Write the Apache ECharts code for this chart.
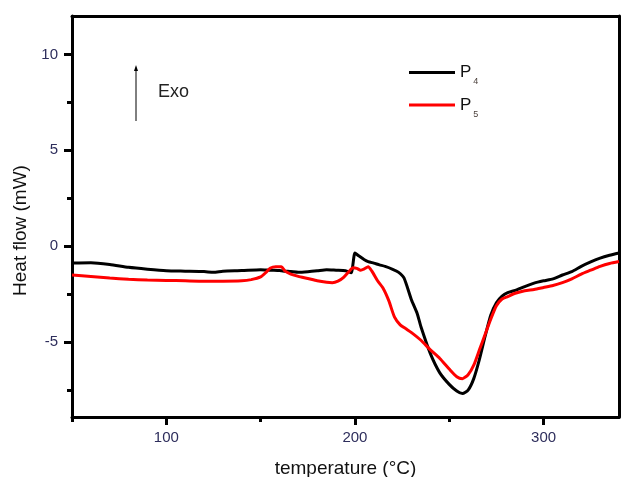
<!DOCTYPE html>
<html>
<head>
<meta charset="utf-8">
<script src="https://cdn.jsdelivr.net/npm/echarts@6/dist/echarts.min.js"></script>
<style>
  html, body { margin: 0; padding: 0; background: #fff; }
  #chart { width: 621px; height: 477px; }
</style>
</head>
<body>
<div id="chart"></div>
<script>
// DSC curves
const tempP4 = [50, 60, 70, 80, 90, 100, 110, 120, 125, 130, 140, 150, 155, 160, 163, 166, 170, 175, 180, 185, 190, 195, 198,
  200, 202, 205, 207, 210, 213, 216, 220, 223, 226, 230, 233, 235, 240, 245, 250, 254, 257, 260, 263, 266, 269, 272, 275,
  278, 281, 285, 290, 295, 300, 305, 310, 315, 320, 325, 330, 335, 340];
const heatP4 = [-0.88, -0.86, -0.95, -1.1, -1.2, -1.28, -1.3, -1.32, -1.36, -1.3, -1.27, -1.22, -1.25, -1.27, -1.3, -1.32,
  -1.36, -1.33, -1.28, -1.22, -1.25, -1.28, -1.38,
  -0.35, -0.5, -0.7, -0.8, -0.88, -0.97, -1.05, -1.2, -1.35, -1.65, -2.8, -3.5, -4.2, -5.6, -6.6, -7.2, -7.55, -7.68,
  -7.5, -6.9, -5.9, -4.7, -3.6, -2.95, -2.6, -2.42, -2.3, -2.1, -1.92, -1.8, -1.7, -1.5, -1.32, -1.05, -0.82, -0.62,
  -0.47, -0.35];

const tempP5 = [50, 60, 70, 80, 90, 100, 110, 120, 130, 140, 145, 150, 153, 155, 158, 161, 163, 166, 170, 175, 180, 185,
  188, 191, 194, 197, 199, 201, 203, 205, 207, 209, 212, 215, 218, 221, 224, 227, 230, 235, 240, 245, 250, 254, 257,
  260, 263, 266, 269, 272, 275, 278, 281, 285, 290, 295, 300, 305, 310, 315, 320, 325, 330, 335, 340];
const heatP5 = [-1.5, -1.58, -1.66, -1.72, -1.76, -1.78, -1.8, -1.82, -1.82, -1.8, -1.74, -1.6, -1.35, -1.15, -1.07,
  -1.07, -1.3, -1.45, -1.57, -1.68, -1.8, -1.88, -1.9, -1.82, -1.62, -1.3, -1.12, -1.15, -1.25, -1.18, -1.07, -1.3,
  -1.8, -2.2, -2.85, -3.7, -4.1, -4.3, -4.5, -4.9, -5.4, -5.85, -6.4, -6.8, -6.9, -6.7, -6.2, -5.4, -4.6, -3.8, -3.1,
  -2.75, -2.62, -2.45, -2.32, -2.25, -2.15, -2.05, -1.9, -1.7, -1.45, -1.25, -1.05, -0.9, -0.8];

const seriesNames = ['P4', 'P5'];
const xMajorTicks = [100, 200, 300];
const xMinorTicks = [50, 150, 250];
const yMajorTicks = [-5, 0, 5, 10];
const yMinorTicks = [-7.5, -2.5, 2.5, 7.5];

const FONT = 'Liberation Sans, Arial, sans-serif';
const LABEL_COLOR = '#2e2e5c';

const X_MIN = 50, X_MAX = 340;
const Y_MIN = -8.9, Y_MAX = 12;

function pairs(xs, ys) {
  return xs.map((x, i) => [x, ys[i]]);
}

const chart = echarts.init(document.getElementById('chart'));

const axisLine = { show: true, onZero: false, lineStyle: { color: '#000', width: 3 } };
const noLine = { show: false, onZero: false };
const tickStyle = { width: 3, color: '#000' };
const tickLabel = { fontFamily: FONT, fontSize: 15, color: LABEL_COLOR };

chart.setOption({
  animation: false,
  backgroundColor: '#fff',
  grid: { left: 72, right: 2, top: 16, bottom: 60, containLabel: false, outerBoundsMode: 'none' },
  legend: {
    orient: 'vertical',
    left: 404,
    top: 59,
    itemWidth: 46,
    itemHeight: 3,
    itemGap: 10,
    icon: 'rect',
    data: seriesNames,
    formatter: function (name) {
      return '{p|P}{s|' + name.slice(1) + '}';
    },
    textStyle: {
      rich: {
        p: { fontFamily: FONT, fontSize: 17, color: '#111' },
        s: { fontFamily: FONT, fontSize: 9, color: '#4a3f3a', padding: [19, 0, 0, 2] }
      }
    }
  },
  xAxis: [{
    type: 'value',
    min: X_MIN,
    max: X_MAX,
    name: 'temperature (°C)',
    nameLocation: 'middle',
    nameGap: 42,
    nameTextStyle: { fontFamily: FONT, fontSize: 19, color: '#111' },
    axisLine: axisLine,
    axisTick: { show: true, length: 8, lineStyle: tickStyle, customValues: xMajorTicks },
    axisLabel: Object.assign({ margin: 13, customValues: xMajorTicks }, tickLabel),
    splitLine: { show: false }
  }, {
    type: 'value',
    position: 'top',
    min: X_MIN,
    max: X_MAX,
    axisLine: axisLine,
    axisTick: { show: false },
    axisLabel: { show: false },
    splitLine: { show: false }
  }, {
    // minor ticks
    type: 'value',
    position: 'bottom',
    min: X_MIN,
    max: X_MAX,
    axisLine: noLine,
    axisTick: { show: true, length: 5, lineStyle: tickStyle, customValues: xMinorTicks },
    axisLabel: { show: false },
    splitLine: { show: false }
  }],
  yAxis: [{
    type: 'value',
    min: Y_MIN,
    max: Y_MAX,
    name: 'Heat flow (mW)',
    nameLocation: 'middle',
    nameGap: 41,
    nameTextStyle: { fontFamily: FONT, fontSize: 19, color: '#111', padding: [0, 28, 0, 0] },
    axisLine: axisLine,
    axisTick: { show: true, length: 8, lineStyle: tickStyle, customValues: yMajorTicks },
    axisLabel: Object.assign({ margin: 14, customValues: yMajorTicks }, tickLabel),
    splitLine: { show: false }
  }, {
    type: 'value',
    position: 'right',
    min: Y_MIN,
    max: Y_MAX,
    axisLine: axisLine,
    axisTick: { show: false },
    axisLabel: { show: false },
    splitLine: { show: false }
  }, {
    // minor ticks
    type: 'value',
    position: 'left',
    min: Y_MIN,
    max: Y_MAX,
    axisLine: noLine,
    axisTick: { show: true, length: 5, lineStyle: tickStyle, customValues: yMinorTicks },
    axisLabel: { show: false },
    splitLine: { show: false }
  }],
  series: [{
    name: seriesNames[0],
    type: 'line',
    data: pairs(tempP4, heatP4),
    showSymbol: false,
    smooth: 0.2,
    lineStyle: { color: '#000', width: 3 },
    itemStyle: { color: '#000' }
  }, {
    name: seriesNames[1],
    type: 'line',
    data: pairs(tempP5, heatP5),
    showSymbol: false,
    smooth: 0.2,
    lineStyle: { color: '#ff0000', width: 3 },
    itemStyle: { color: '#ff0000' }
  }],
  graphic: [{
    type: 'line',
    shape: { x1: 136, y1: 121, x2: 136, y2: 68 },
    style: { stroke: '#000', lineWidth: 1 }
  }, {
    type: 'polygon',
    shape: { points: [[134, 71], [136, 65], [138, 71]] },
    style: { fill: '#000' }
  }, {
    type: 'text',
    left: 158,
    top: 83,
    style: { text: 'Exo', font: '18px ' + FONT, fill: '#222' }
  }]
});
</script>
</body>
</html>
